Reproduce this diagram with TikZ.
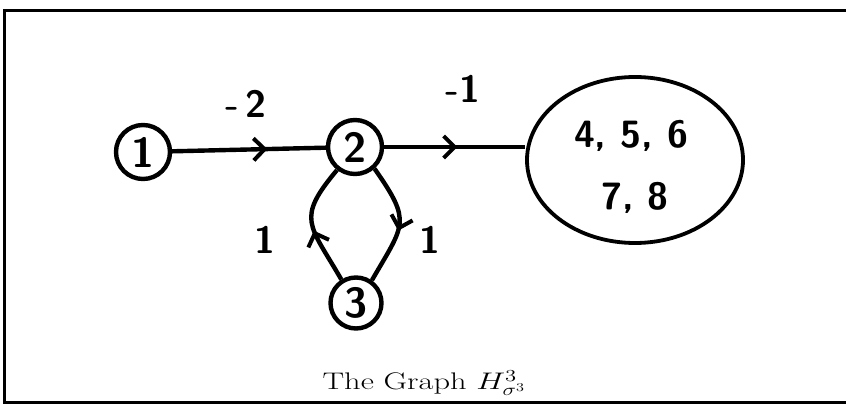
\RequirePackage{fix-cm}
\documentclass[tikz,border=0pt]{standalone}
\usepackage{fontspec}
\usepackage{tikz}
\usetikzlibrary{arrows.meta,decorations.markings,shapes.geometric}
\begin{document}
\begin{tikzpicture}[x=1pt,y=1pt,
  vtx/.style={circle,draw,line width=4.4pt,minimum size=54pt,inner sep=0pt,
    font=\sffamily\bfseries\fontsize{42}{44}\selectfont},
  wlabel/.style={font=\sffamily\bfseries\fontsize{38}{40}\selectfont,inner sep=0pt},
  edgeline/.style={line width=4.4pt},
  midarrow/.style={postaction={decorate},decoration={markings,
    mark=at position #1 with {\arrow{Straight Barb[length=11pt,width=22pt,line width=4pt]}}}},
  frameline/.style={line width=3pt}
]
\useasboundingbox (0,0) rectangle (846,404);
% frame
\coordinate (ftl) at (4.5,393);
\coordinate (ftr) at (846,393);
\coordinate (fbl) at (4.5,1.5);
\coordinate (fbr) at (846,1.5);
\draw[frameline] (ftr) -- (ftl) -- (fbl) -- (fbr);

% nodes
\node[vtx] (n1) at (143,252) {1};
\node[vtx] (n2) at (355,257) {2};
\node[vtx,minimum size=51pt] (n3) at (356,101) {3};
\node[ellipse,draw,line width=3.8pt,minimum width=216pt,minimum height=166pt,inner sep=0pt] (big) at (635,244) {};
\node[font=\sffamily\bfseries\fontsize{38}{40}\selectfont,align=center,inner sep=0pt] (bigtxt) at (631,237)
  {4, 5, 6\\[22pt]\hspace*{8pt}7, 8};

% edges
\draw[edgeline,midarrow=0.62] (n1) -- (n2);
\draw[edgeline,midarrow=0.52] (n2) -- (n2 -| big.west);
\draw[edgeline,midarrow=0.45] (n3.122) to[out=120,in=-130,looseness=1.5] (n2.-128);
\draw[edgeline,midarrow=0.55] (n2.-48) to[out=-55,in=60,looseness=1.5] (n3.55);

% weights
\node[wlabel] (w12) at (246,300) {-\,2};
\node[wlabel] (w2b) at (463,315) {-1};
\node[wlabel] (w32) at (265,164) {1};
\node[wlabel] (w23) at (430,164) {1};

% caption
\node[anchor=base,inner sep=0pt,font=\fontsize{24}{26}\selectfont] (cap) at (424,14)
  {\scalebox{1.35}[1]{The Graph $H^{3}_{\sigma^{3}}$}};
\end{tikzpicture}
\end{document}
